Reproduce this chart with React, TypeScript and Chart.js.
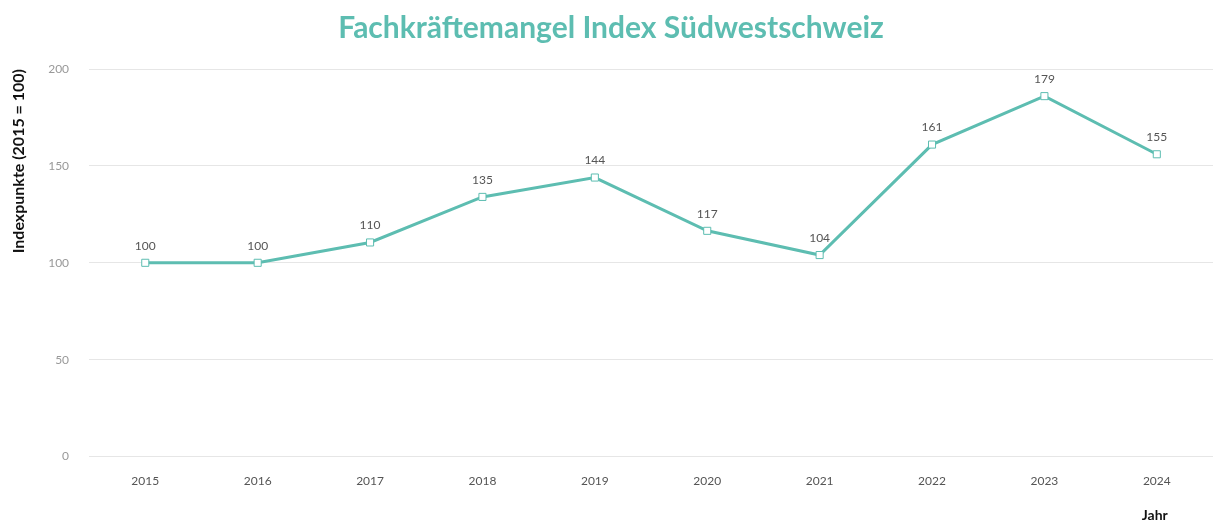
import React, { useEffect, useRef } from "react";
import { Chart, registerables } from "chart.js";

Chart.register(...registerables);

const years = ["2015", "2016", "2017", "2018", "2019", "2020", "2021", "2022", "2023", "2024"];
const indexValues = [100, 100, 110.5, 134, 144, 116.5, 104, 161, 186, 156];
const valueLabels = ["100", "100", "110", "135", "144", "117", "104", "161", "179", "155"];
const yTicks = [0, 50, 100, 150, 200];

const TEAL = "#5dbdb1";

const pointLabelsPlugin = {
  id: "pointLabels",
  afterDatasetsDraw(chart: any) {
    const { ctx } = chart;
    const meta = chart.getDatasetMeta(0);
    ctx.save();
    ctx.font = "12px Lato, 'DejaVu Sans', sans-serif";
    ctx.fillStyle = "#555";
    ctx.textAlign = "center";
    ctx.textBaseline = "middle";
    meta.data.forEach((pt: any, i: number) => {
      ctx.fillText(valueLabels[i], pt.x, pt.y - 17);
    });
    ctx.restore();
  },
};

const xTitlePlugin = {
  id: "xTitle",
  afterDraw(chart: any) {
    const { ctx } = chart;
    const xs = chart.scales.x;
    const x = xs.getPixelForValue(years.length - 1);
    ctx.save();
    ctx.font = "bold 14px Lato, sans-serif";
    ctx.fillStyle = "#111";
    ctx.textAlign = "center";
    ctx.textBaseline = "middle";
    ctx.fillText("Jahr", x - 2, 515);
    ctx.restore();
  },
};

export default function App() {
  const ref = useRef<HTMLCanvasElement>(null);
  useEffect(() => {
    document.body.style.margin = "0";
    const chart = new Chart(ref.current!, {
      type: "line",
      data: {
        labels: years,
        datasets: [
          {
            data: indexValues,
            borderColor: TEAL,
            borderWidth: 3,
            backgroundColor: "#ffffff",
            pointStyle: "rect",
            pointRadius: 5,
            pointBorderWidth: 1,
            pointBorderColor: TEAL,
            pointBackgroundColor: "#ffffff",
            tension: 0,
          },
        ],
      },
      options: {
        animation: false,
        responsive: true,
        maintainAspectRatio: false,
        layout: { padding: { left: 9, right: 12, top: 0, bottom: 25 } },
        plugins: {
          legend: { display: false },
          tooltip: { enabled: false },
          title: {
            display: true,
            text: "Fachkräftemangel Index Südwestschweiz",
            color: TEAL,
            font: { family: "Lato, sans-serif", size: 30, weight: "bold" },
            padding: { top: 10, bottom: 23 },
          },
        },
        scales: {
          x: {
            offset: true,
            grid: { display: false },
            border: { display: false },
            ticks: {
              color: "#555",
              font: { family: "Lato, sans-serif", size: 12 },
              padding: 9,
              maxRotation: 0,
            },
          },
          y: {
            min: 0,
            max: 200,
            afterBuildTicks(scale: any) {
              scale.ticks = yTicks.map((v) => ({ value: v }));
            },
            grid: { color: "#e6e6e6", drawTicks: false, lineWidth: 1 },
            border: { display: false },
            ticks: {
              color: "#999",
              font: { family: "Lato, sans-serif", size: 12 },
              padding: 20,
            },
            title: {
              display: true,
              text: "Indexpunkte (2015 = 100)",
              align: "end",
              color: "#111",
              font: { family: "Lato, sans-serif", size: 16, weight: "bold" },
              padding: { top: 0, bottom: 0 },
            },
          },
        },
      },
      plugins: [pointLabelsPlugin, xTitlePlugin],
    });
    return () => chart.destroy();
  }, []);
  return (
    <div style={{ position: "fixed", left: 0, top: 0, width: 1225, height: 522, background: "#fff" }}>
      <canvas ref={ref} />
    </div>
  );
}
